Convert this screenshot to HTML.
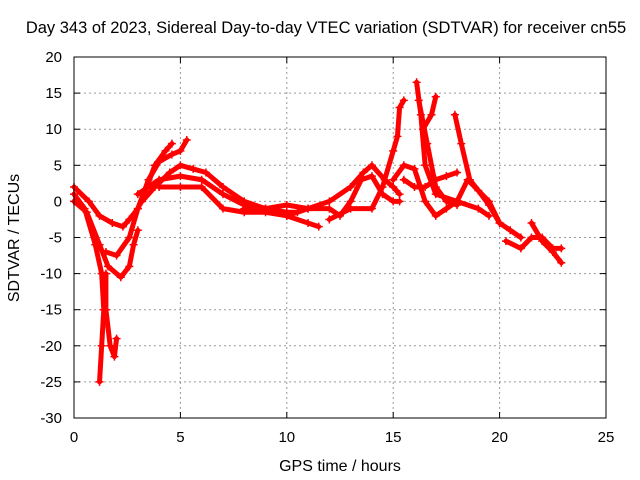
<!DOCTYPE html>
<html><head><meta charset="utf-8"><style>
body{margin:0;background:#fff}
svg{display:block;font-family:"Liberation Sans",sans-serif}
</style></head><body>
<svg id="chart" width="640" height="480">
<text x="326" y="33" text-anchor="middle" font-size="16.5">Day 343 of 2023, Sidereal Day-to-day VTEC variation (SDTVAR) for receiver cn55</text>
<text x="340" y="471" text-anchor="middle" font-size="16">GPS time / hours</text>
<text transform="translate(19,238) rotate(-90)" text-anchor="middle" font-size="16">SDTVAR / TECUs</text>
<g id="grid"></g><g id="ticks"></g><g id="marks"></g>
<rect x="74" y="57" width="532" height="361" fill="none" stroke="#000"/>
</svg>
<script>
const xTicks=[0,5,10,15,20,25];
const yTicks=[20,15,10,5,0,-5,-10,-15,-20,-25,-30];
const trackA=[[0,1],[0.5,-1],[1,-6],[1.3,-10],[1.4,-15],[1.3,-20],[1.2,-25]];
const trackB=[[0,0],[0.6,-1.5],[1.2,-6],[1.6,-9],[2.2,-10.5],[2.6,-9],[2.8,-6],[3.0,-4]];
const trackC=[[1.5,-10],[1.5,-15],[1.7,-20],[1.9,-21.5],[2.0,-19]];
const trackD=[[0,2],[0.7,0],[1.2,-2],[1.8,-3],[2.3,-3.5],[2.6,-2.5],[3,-1],[3.3,1],[3.8,5],[4.3,7],[4.6,8]];
const trackE=[[1.5,-7],[2,-7.5],[2.6,-5],[3,-1],[3.5,3],[4,5.5],[4.6,6.5],[5,7],[5.3,8.5]];
const trackF=[[3.2,0],[3.8,2],[4.5,4],[5,5],[5.6,4.5],[6.2,4],[7,2],[8,0],[9,-1],[10,-2],[11,-3],[11.5,-3.5]];
const trackG=[[3,1],[4,3],[5,3.5],[6,3],[7,1],[8,-0.5],[9,-1],[10,-1.5],[10.5,-1.5]];
const trackH=[[4,2],[5,2],[6,2],[7,-1],[8,-1.5],[9,-1.5],[10,-2],[11,-1],[12,0],[13,2],[13.6,4],[14,5],[14.6,3],[15,2],[15.3,1]];
const trackI=[[8,-1],[9,-1],[10,-0.5],[11,-1],[12,-1],[12.5,-2],[13,0],[13.5,3],[14,3.5],[14.5,1],[15,0],[15.3,0]];
const trackJ=[[12,-2.5],[13,-1],[14,-1],[14.5,2],[15,7],[15.2,9],[15.3,13],[15.5,14]];
const trackK=[[15,3],[15.5,5],[16,4.5],[16.5,0],[17,-2],[17.5,-1],[18,0],[18.5,3],[19.5,0],[20,-3]];
const trackL=[[15.5,3],[16,2],[16.5,2],[17,3],[17.5,3.5],[18,4]];
const trackM=[[16.1,16.5],[16.3,12],[16.5,5],[17,1],[18,0],[19,-1],[19.5,-2]];
const trackN=[[16.4,10],[16.8,12],[17,14.5]];
const trackO=[[16.2,14],[16.6,8],[17,2],[17.5,0],[18,-0.5]];
const trackP=[[17.9,12],[18.2,8],[18.6,3],[19,1.5],[19.5,-0.5],[20,-3],[20.5,-4],[21,-5]];
const trackQ=[[20.3,-5.5],[21,-6.5],[21.5,-5],[22,-5],[22.5,-6.5],[22.9,-6.5]];
const trackR=[[21.5,-3],[22,-5.5],[22.5,-7],[22.9,-8.5]];
const tracks=[trackA,trackB,trackC,trackD,trackE,trackF,trackG,trackH,trackI,trackJ,trackK,trackL,trackM,trackN,trackO,trackP,trackQ,trackR];
const X=t=>74+t*(532/25);
const Y=v=>57+(20-v)*(361/50);
const NS="http://www.w3.org/2000/svg";
function mk(tag,attrs,parent){const e=document.createElementNS(NS,tag);for(const k in attrs)e.setAttribute(k,attrs[k]);parent.appendChild(e);return e;}
const grid=document.getElementById('grid'),ticks=document.getElementById('ticks'),marks=document.getElementById('marks');
xTicks.forEach(t=>{
 if(t>0&&t<25){const g=mk('line',{x1:X(t),x2:X(t),y1:57,y2:418,stroke:'#999','stroke-dasharray':'2,3'},grid);
 
 }
 mk('line',{x1:X(t),x2:X(t),y1:418,y2:412,stroke:'#000'},ticks);
 mk('line',{x1:X(t),x2:X(t),y1:57,y2:63,stroke:'#000'},ticks);
 const l=mk('text',{x:X(t),y:442,'text-anchor':'middle','font-size':15},ticks);l.textContent=t;
 
 
});
yTicks.forEach(v=>{
 if(v<20&&v>-30){const g=mk('line',{x1:74,x2:606,y1:Y(v),y2:Y(v),stroke:'#999','stroke-dasharray':'2,3'},grid);
 
 }
 mk('line',{x1:74,x2:80,y1:Y(v),y2:Y(v),stroke:'#000'},ticks);
 mk('line',{x1:600,x2:606,y1:Y(v),y2:Y(v),stroke:'#000'},ticks);
 const l=mk('text',{x:62,y:Y(v)+5,'text-anchor':'end','font-size':15},ticks);l.textContent=v;
 
 
});
tracks.forEach((tr,i)=>{
 const pl=mk('polyline',{points:tr.map(p=>X(p[0])+','+Y(p[1])).join(' '),fill:'none',stroke:'#f00','stroke-width':5,'stroke-linejoin':'round','stroke-linecap':'round'},marks);
 
 
 tr.forEach(p=>{
  const m=mk('path',{d:`M${X(p[0])-4},${Y(p[1])}h8M${X(p[0])},${Y(p[1])-4}v8`,stroke:'#f00','stroke-width':1.5},marks);
  
  
 });
});
</script>
</body></html>
